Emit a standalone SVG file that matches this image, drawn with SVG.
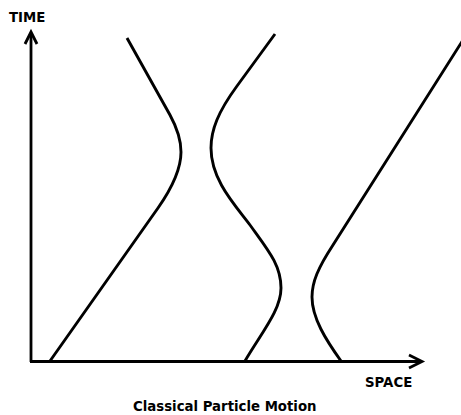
<svg xmlns="http://www.w3.org/2000/svg" width="461" height="415" viewBox="0 0 461 415">
<style>
.axis{stroke:#000;stroke-width:2.8;fill:none}
.traj{stroke:#000;stroke-width:2.9;fill:none;stroke-linecap:butt}
.lbl{font-family:"DejaVu Sans",Verdana,sans-serif;font-weight:bold;font-size:13.3px;fill:#000}
</style>
<rect width="461" height="415" fill="#fff"/>
<g id="connectors">
<path class="axis" d="M31,362 L31,33"/>
<path class="axis" d="M25,44 L31,32 L37,44"/>
<path class="axis" d="M30,361.5 L421,361.5"/>
<path class="axis" d="M409,355 L422,361.5 L409,368"/>
</g>
<g id="trajectory1"><path class="traj" d="M50,361 L158,208 C172,188 181,170 181,152 C181,138 176,126 170,115 L127,38"/></g>
<g id="trajectory2"><path class="traj" d="M275,34 L237,86 C218,112 211,130 211,148 C211,180 235,205 250,225 C268,250 281,265 281,288 C281,310 262,332 245,361"/></g>
<g id="trajectory3"><path class="traj" d="M463,40 L333,245 C318,268 312,282 312,297 C312,318 326,340 341,361"/></g>
<g id="label-time"><text class="lbl" x="9" y="22">TIME</text></g>
<g id="label-space"><text class="lbl" x="365" y="387">SPACE</text></g>
<g id="title"><text class="lbl" x="133" y="411">Classical Particle Motion</text></g>
</svg>
